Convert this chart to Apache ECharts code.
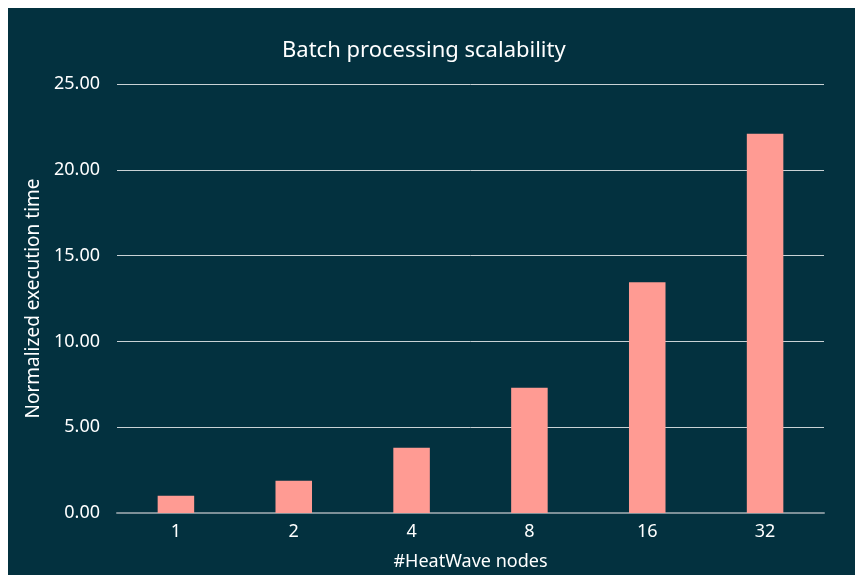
<!DOCTYPE html>
<html>
<head>
<meta charset="utf-8">
<script src="https://cdn.jsdelivr.net/npm/echarts@6/dist/echarts.min.js"></script>
<style>
  html, body { margin: 0; padding: 0; background: #ffffff; }
  #main {
    position: absolute;
    left: 8px;
    top: 8px;
    width: 847px;
    height: 567px;
    background: #03313f;
  }
</style>
</head>
<body>
<div id="main"></div>
<script>
const nodes = ["1", "2", "4", "8", "16", "32"];
const execTime = [1.0, 1.88, 3.8, 7.3, 13.45, 22.1];

const chart = echarts.init(document.getElementById("main"));

const option = {
  backgroundColor: "#03313f",
  textStyle: { fontFamily: "Noto Sans" },
  title: {
    text: "Batch processing scalability",
    left: 269,
    top: 27,
    textStyle: {
      color: "#ffffff",
      fontSize: 22,
      fontWeight: "normal",
      fontFamily: "Noto Sans",
    },
  },
  grid: {
    left: 109,
    right: 31,
    top: 76,
    bottom: 62,
    outerBoundsMode: "none",
  },
  xAxis: {
    type: "category",
    data: nodes,
    name: "#HeatWave nodes",
    nameLocation: "middle",
    nameGap: 40,
    nameTextStyle: { color: "#ffffff", fontSize: 18 },
    axisLine: { lineStyle: { color: "#7d9098", width: 2 } },
    axisTick: { show: false },
    axisLabel: { color: "#ffffff", fontSize: 18, margin: 10 },
  },
  yAxis: {
    type: "value",
    min: 0,
    max: 25,
    interval: 5,
    name: "Normalized execution time",
    nameLocation: "middle",
    nameGap: 72,
    nameTextStyle: { color: "#ffffff", fontSize: 19 },
    axisLine: { show: false },
    axisTick: { show: false },
    axisLabel: {
      color: "#ffffff",
      fontSize: 18,
      margin: 17,
      formatter: (v) => v.toFixed(2),
    },
    splitLine: { lineStyle: { color: "#c9d2d5", width: 1 } },
  },
  series: [
    {
      type: "bar",
      data: execTime,
      barWidth: "31%",
      itemStyle: { color: "#ff9b93" },
    },
  ],
};

chart.setOption(option);
</script>
</body>
</html>
